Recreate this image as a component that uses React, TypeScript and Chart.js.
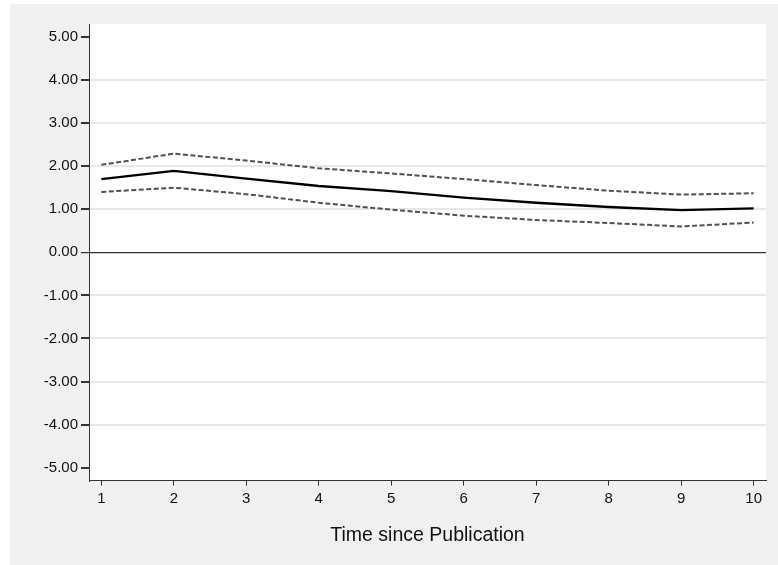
import React, { useEffect, useRef } from "react";
import { Chart, registerables } from "chart.js";

Chart.register(...registerables);

const periods = [1, 2, 3, 4, 5, 6, 7, 8, 9, 10];
const estimate = [1.70, 1.89, 1.71, 1.54, 1.42, 1.27, 1.15, 1.05, 0.98, 1.02];
const upperBound = [2.03, 2.29, 2.13, 1.95, 1.83, 1.70, 1.56, 1.43, 1.34, 1.37];
const lowerBound = [1.40, 1.50, 1.35, 1.15, 0.99, 0.85, 0.75, 0.68, 0.60, 0.69];
const yTicks = [-5, -4, -3, -2, -1, 0, 1, 2, 3, 4, 5];
const xTitle = "Time since Publication";

const FONT = "'Liberation Sans', Arial, Helvetica, sans-serif";

const bgPlugin = {
  id: "bgPanels",
  beforeDraw(chart: any) {
    const { ctx, chartArea, width, height } = chart;
    ctx.save();
    ctx.fillStyle = "#ffffff";
    ctx.fillRect(0, 0, width, height);
    ctx.fillStyle = "#f0f0f0";
    ctx.fillRect(10, 4, width - 10, height - 4);
    ctx.fillStyle = "#ffffff";
    ctx.fillRect(chartArea.left, chartArea.top, chartArea.right - chartArea.left, chartArea.bottom - chartArea.top);
    ctx.restore();
  },
};

export default function App() {
  const ref = useRef<HTMLCanvasElement>(null);
  useEffect(() => {
    document.body.style.margin = "0";
    const toPts = (arr: number[]) => periods.map((p, i) => ({ x: p, y: arr[i] }));
    const chart = new Chart(ref.current as HTMLCanvasElement, {
      type: "line",
      data: {
        datasets: [
          {
            label: "upper",
            data: toPts(upperBound),
            borderColor: "#505050",
            borderWidth: 2,
            borderDash: [5, 2.5],
            pointRadius: 0,
            tension: 0,
            fill: false,
          },
          {
            label: "lower",
            data: toPts(lowerBound),
            borderColor: "#505050",
            borderWidth: 2,
            borderDash: [5, 2.5],
            pointRadius: 0,
            tension: 0,
            fill: false,
          },
          {
            label: "estimate",
            data: toPts(estimate),
            borderColor: "#000000",
            borderWidth: 2.4,
            pointRadius: 0,
            tension: 0,
            fill: false,
          },
        ],
      },
      options: {
        responsive: false,
        animation: false,
        layout: { padding: { left: 0, right: 12, top: 24, bottom: 18 } },
        plugins: { legend: { display: false }, tooltip: { enabled: false } },
        scales: {
          x: {
            type: "linear",
            min: 0.83,
            max: 10.17,
            afterBuildTicks: (scale: any) => {
              scale.ticks = periods.map((v) => ({ value: v }));
            },
            grid: {
              display: true,
              drawOnChartArea: false,
              tickLength: 5,
              tickColor: "#333333",
            },
            border: { display: true, color: "#333333", width: 1 },
            ticks: {
              color: "#111111",
              font: { family: FONT, size: 15 },
              padding: 4,
              maxRotation: 0,
              autoSkip: false,
              callback: (v: any) => String(v),
            },
            title: {
              display: true,
              text: xTitle,
              color: "#111111",
              font: { family: FONT, size: 19.5 },
              padding: { top: 12, bottom: 0 },
            },
          },
          y: {
            type: "linear",
            min: -5.3,
            max: 5.3,
            afterBuildTicks: (scale: any) => {
              scale.ticks = yTicks.map((v) => ({ value: v }));
            },
            afterFit: (scale: any) => {
              scale.width = 89;
            },
            grid: {
              display: true,
              drawOnChartArea: true,
              tickLength: 8,
              tickColor: "#333333",
              color: (c: any) => {
                const v = c.tick ? c.tick.value : null;
                if (v === 0) return "#333333";
                if (v === 5 || v === -5) return "rgba(0,0,0,0)";
                return "#e8e8e8";
              },
              lineWidth: (c: any) => (c.tick && c.tick.value === 0 ? 1.2 : 2),
            },
            border: { display: true, color: "#333333", width: 1 },
            ticks: {
              color: "#111111",
              font: { family: FONT, size: 15 },
              padding: 3,
              autoSkip: false,
              callback: (v: any) => Number(v).toFixed(2),
            },
          },
        },
      },
      plugins: [bgPlugin],
    });
    return () => chart.destroy();
  }, []);
  return <canvas ref={ref} width={778} height={565} style={{ display: "block" }} />;
}
